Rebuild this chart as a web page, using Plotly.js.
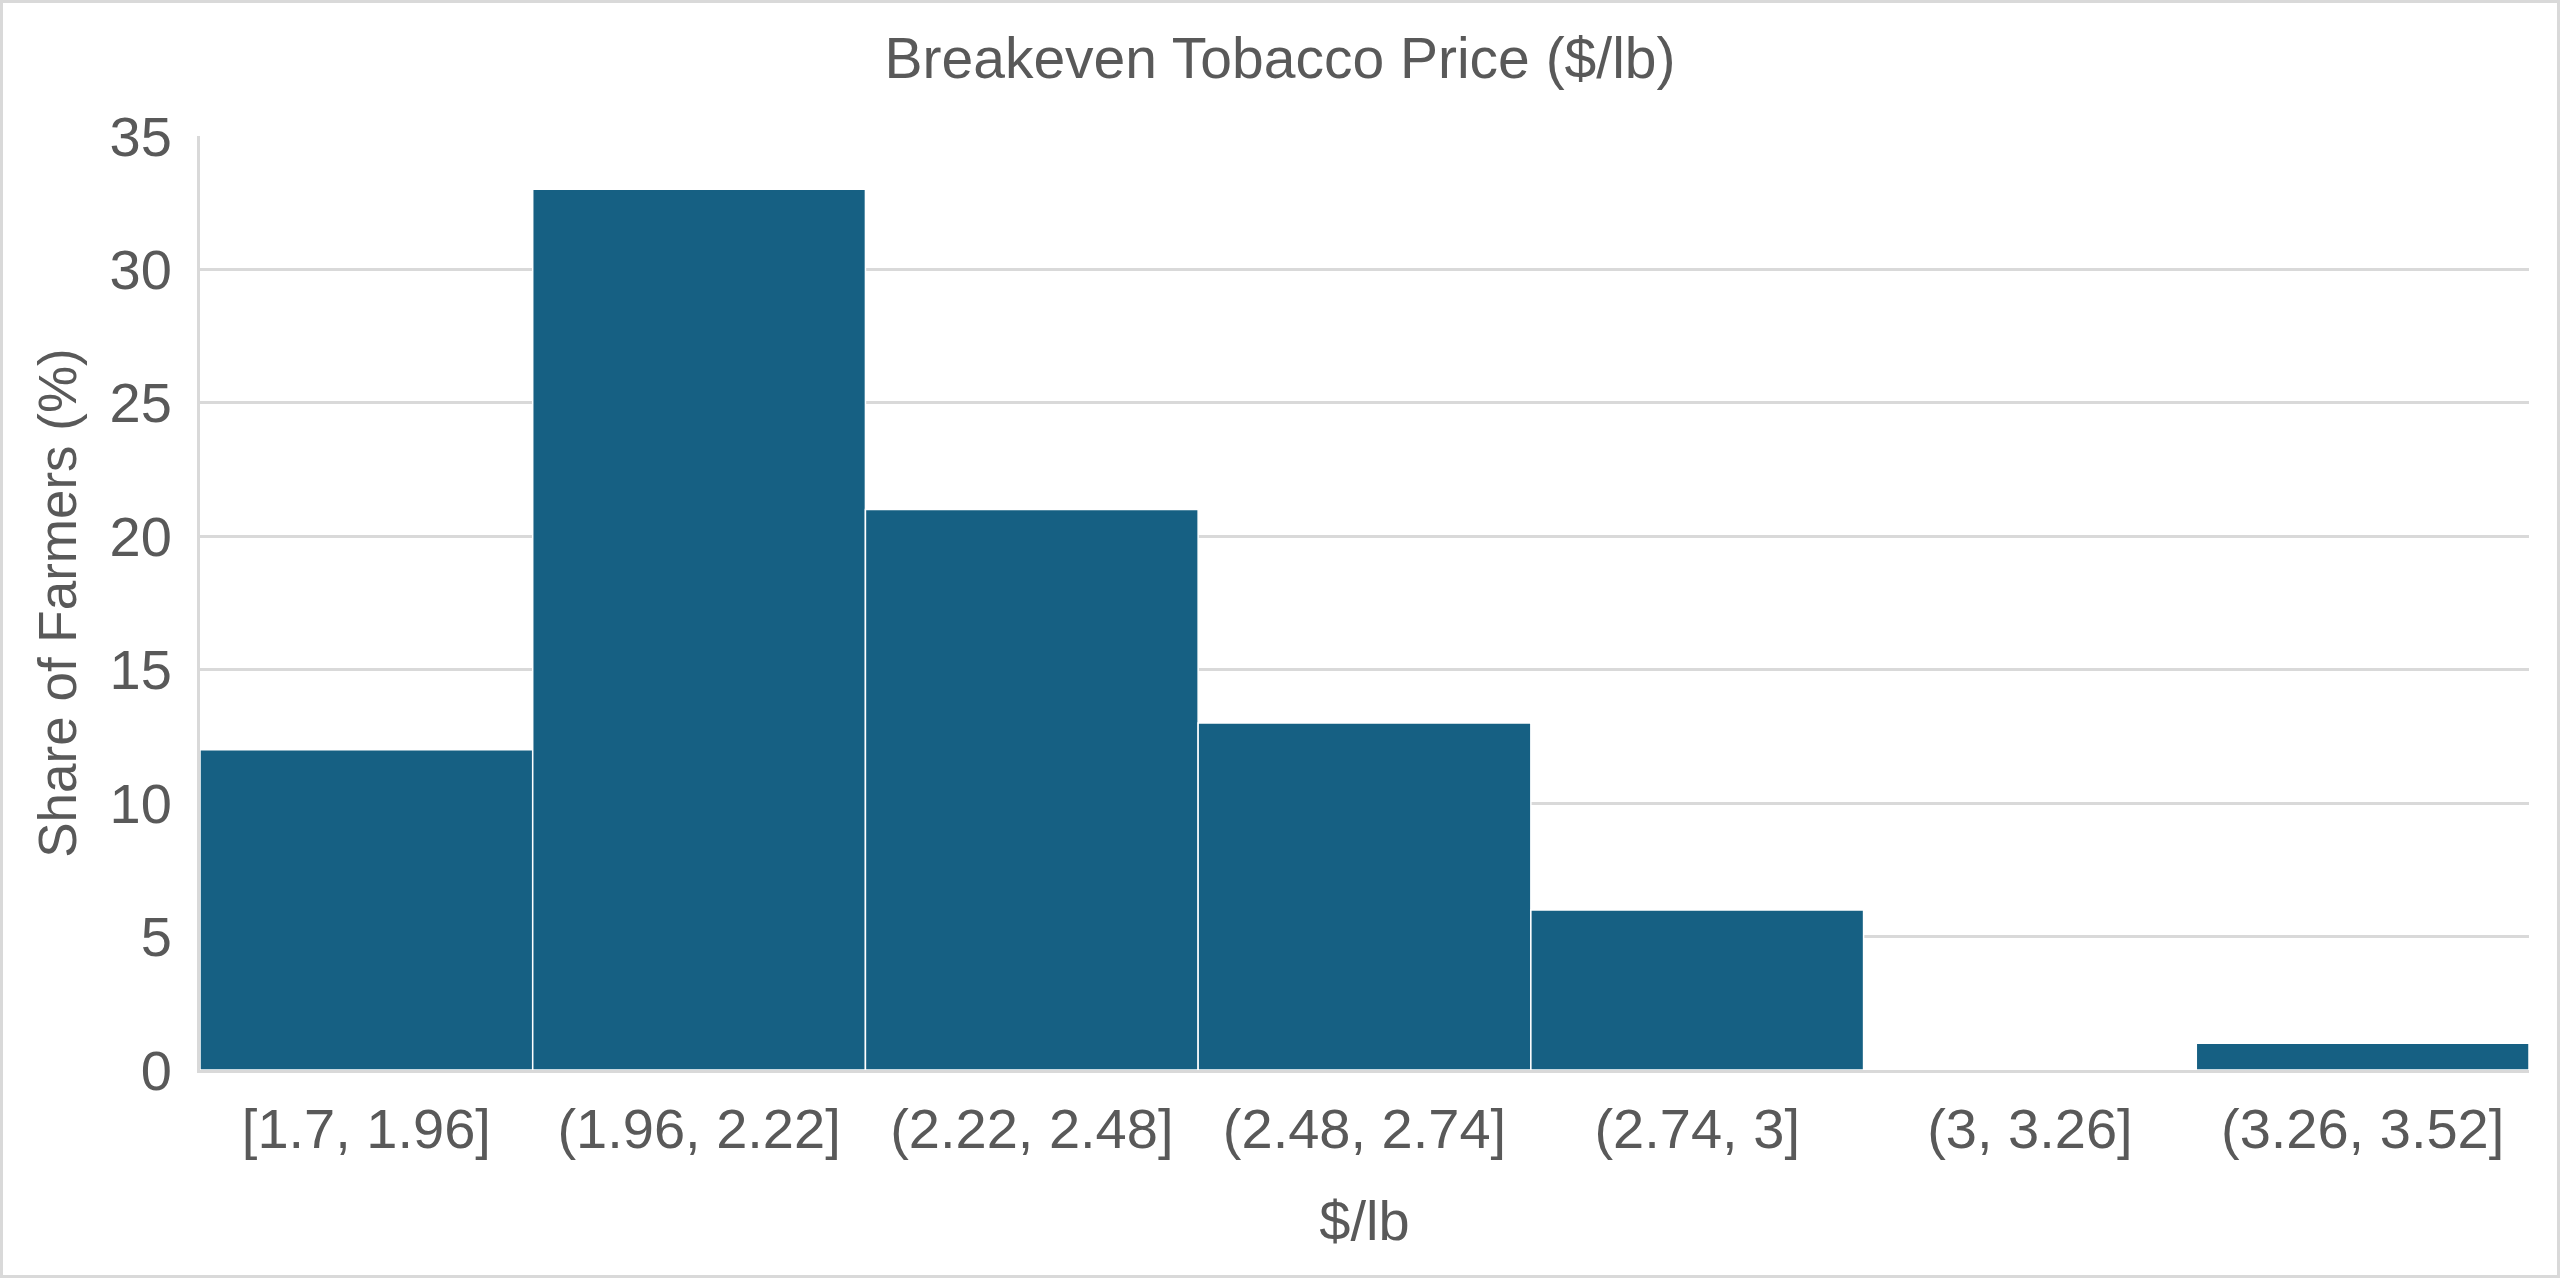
<!DOCTYPE html>
<html>
<head>
<meta charset="utf-8">
<script src="https://cdn.plot.ly/plotly-3.0.1.min.js"></script>
<style>
  html, body { margin: 0; padding: 0; background: #fff; }
  #chart { width: 2560px; height: 1278px; box-sizing: border-box; border: 3px solid #d9d9d9; }
</style>
</head>
<body>
<div id="chart"></div>
<script>
const bins = ['[1.7, 1.96]', '(1.96, 2.22]', '(2.22, 2.48]', '(2.48, 2.74]', '(2.74, 3]', '(3, 3.26]', '(3.26, 3.52]']
const share = [12, 33, 21, 13, 6, 0, 1]
const yTicks = [0, 5, 10, 15, 20, 25, 30, 35]

const textColor = '#595959'
const family = 'Liberation Sans, Arial, sans-serif'
const font = { family: family, size: 56, color: textColor }

const traces = [{
  type: 'bar',
  x: bins,
  y: share,
  marker: { color: '#166083', line: { color: '#ffffff', width: 1.5 } },
  hoverinfo: 'x+y'
}]

const layout = {
  width: 2554,
  height: 1272,
  margin: { l: 197, r: 28, t: 133, b: 205 },
  paper_bgcolor: '#ffffff',
  plot_bgcolor: '#ffffff',
  font: font,
  bargap: 0,
  showlegend: false,
  title: {
    text: 'Breakeven Tobacco Price ($/lb)',
    font: { family: family, size: 57, color: textColor },
    x: 0.5,
    xanchor: 'center',
    y: 1 - 55 / 1272,
    yanchor: 'middle'
  },
  xaxis: {
    type: 'category',
    showgrid: false,
    showline: true,
    linecolor: '#d9d9d9',
    linewidth: 3,
    ticks: '',
    ticklabelstandoff: 8,
    tickfont: font,
    title: { text: '$/lb', font: font, standoff: 42 }
  },
  yaxis: {
    range: [0, 35],
    tickvals: yTicks,
    ticktext: yTicks.map(String),
    showgrid: true,
    gridcolor: '#d9d9d9',
    gridwidth: 3,
    zeroline: false,
    showline: true,
    linecolor: '#d9d9d9',
    linewidth: 3,
    ticks: '',
    ticklabelstandoff: 14,
    tickfont: font,
    title: { text: 'Share of Farmers (%)', font: { family: family, size: 53, color: textColor }, standoff: 16 }
  }
}

Plotly.newPlot('chart', traces, layout, { displayModeBar: false, staticPlot: true })
</script>
</body>
</html>
